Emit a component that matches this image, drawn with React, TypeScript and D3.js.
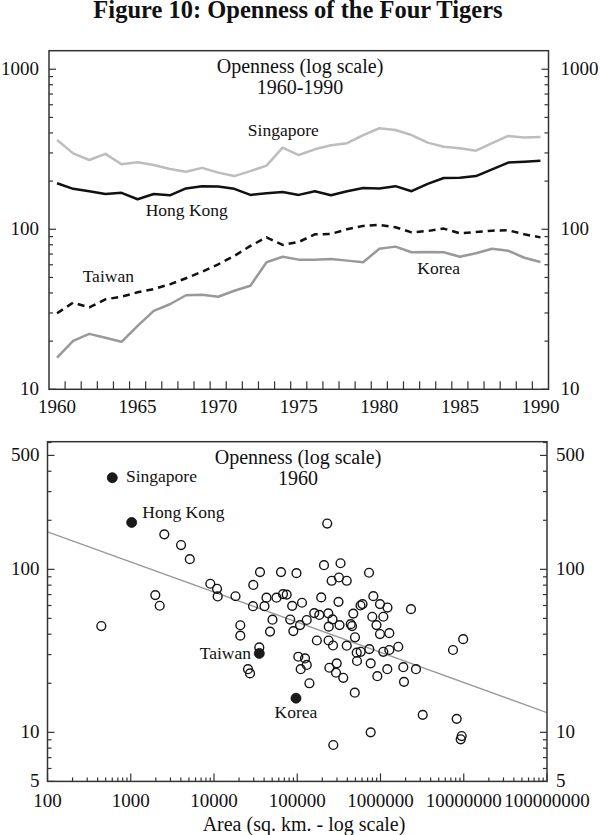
import React, { useEffect, useRef } from "react";
import * as d3 from "d3";

// ---------- Top panel data: openness 1960-1990 ----------
const years = [1960, 1961, 1962, 1963, 1964, 1965, 1966, 1967, 1968, 1969, 1970, 1971, 1972, 1973, 1974, 1975, 1976, 1977, 1978, 1979, 1980, 1981, 1982, 1983, 1984, 1985, 1986, 1987, 1988, 1989, 1990];
const singapore = [361, 298, 271, 296, 255, 262, 252, 238, 229, 242, 226, 215, 231, 250, 324, 291, 316, 335, 345, 388, 428, 417, 388, 348, 328, 321, 310, 345, 383, 374, 377];
const hongKong = [194, 179, 173, 166, 169, 154, 166, 163, 180, 186, 185, 179, 164, 168, 171, 164, 173, 163, 173, 181, 180, 186, 173, 192, 209, 210, 215, 237, 261, 264, 268];
const taiwan = [29.9, 34.8, 32.5, 36.5, 37.9, 40.4, 42.3, 45.3, 49.4, 54.3, 60.4, 68.1, 78.7, 89.1, 79.8, 83.3, 93.0, 93.5, 100, 105, 106.5, 103, 95.7, 97.5, 101, 94.4, 96.2, 98, 98.6, 93, 89];
const korea = [15.8, 20.1, 22.2, 21.0, 19.8, 24.9, 30.9, 34.0, 38.7, 39.0, 37.9, 41.3, 44.4, 62.2, 67.4, 64.6, 64.6, 65.2, 63.7, 62.2, 75.6, 77.9, 71.8, 72, 71.8, 67.4, 70.8, 75.6, 73.5, 66.4, 62.5];
const yearLabels = [1960, 1965, 1970, 1975, 1980, 1985, 1990];
const topYLabels = [10, 100, 1000];

// ---------- Bottom panel data: openness 1960 vs area ----------
const tigerNames = ["Singapore", "Hong Kong", "Taiwan", "Korea"];
const tigerArea = [600, 1026, 35000, 96600];
const tigerOpen = [365, 194, 30.5, 16.2];

const otherArea = [2530, 4020, 5120, 35700, 63800, 97900, 9030, 10870, 11070, 29650, 18130, 1972, 2228, 29400, 40400, 42700, 56300, 67400, 74700, 86900, 114000, 443, 20700, 20700, 50400, 47100, 82300, 89700, 108000, 229000, 209600, 331000, 259000, 317000, 393000, 194000, 313000, 160000, 184000, 236000, 265000, 130000, 239000, 322000, 172000, 238000, 269000, 393000, 494000, 518000, 522000, 35000, 103000, 124000, 130000, 110000, 25600, 27100, 298000, 243000, 292000, 357000, 140000, 491000, 271000, 728000, 820000, 986000, 1213000, 575000, 608000, 2324000, 471000, 797000, 1081000, 439000, 455000, 895000, 986000, 1276000, 9840000, 734000, 578000, 1081000, 1276000, 1636000, 7430000, 762000, 1207000, 1879000, 2669000, 916000, 1915000, 3214000, 8225000, 762000, 9450000, 9190000];
const otherOpen = [164, 141, 115.5, 96.2, 96.2, 94.8, 81.6, 76.0, 68.2, 80.2, 68.4, 69.5, 59.8, 59.4, 59.4, 67.0, 67.0, 70.5, 70.0, 59.7, 62.4, 44.9, 45.4, 39.2, 49.1, 41.5, 49.2, 41.8, 45.5, 191, 106, 109, 85.1, 89.1, 85.1, 67.3, 63.2, 53.9, 52.5, 53.7, 49.3, 48.9, 44.5, 45.5, 36.6, 36.6, 34.1, 34.0, 38.3, 30.8, 27.4, 33.2, 29.1, 28.4, 25.9, 24.4, 24.4, 23.0, 26.5, 24.9, 23.2, 21.6, 20.0, 17.5, 8.36, 95.3, 68.5, 61.2, 58.3, 60.0, 61.2, 57.0, 53.5, 51.2, 51.2, 46.1, 44.9, 45.5, 40.1, 40.6, 37.3, 32.4, 31.2, 31.2, 32.0, 33.5, 32.0, 26.5, 24.4, 25.1, 24.4, 22.1, 20.4, 12.8, 12.1, 10.0, 9.49, 9.06];

// fitted line endpoints (area, openness)
const trendArea = [100, 100000000];
const trendOpen = [170, 13.2];

const areaLabels = ["100", "1000", "10000", "100000", "1000000", "10000000", "100000000"];
const bottomYLabels = [5, 10, 100, 500];

const FONT = "'Liberation Serif', 'Times New Roman', Times, serif";
const INK = "#111";

export default function App() {
  const ref = useRef<SVGSVGElement>(null);

  useEffect(() => {
    document.body.style.margin = "0";
    const svg = d3.select(ref.current);
    svg.selectAll("*").remove();
    svg.attr("font-family", FONT);

    // Title
    svg.append("text")
      .attr("x", 298).attr("y", 18)
      .attr("text-anchor", "middle")
      .attr("font-size", 24.5).attr("font-weight", "bold")
      .attr("fill", INK)
      .text("Figure 10: Openness of the Four Tigers");

    const drawLogYTicks = (g: any, y: any, xl: number, xr: number, majors: number[]) => {
      const [d0, d1] = y.domain();
      const k0 = Math.floor(Math.log10(d0));
      const k1 = Math.ceil(Math.log10(d1));
      for (let k = k0; k <= k1; k++) {
        for (let m = 1; m <= 9; m++) {
          const v = m * Math.pow(10, k);
          if (v < d0 - 1e-9 || v > d1 + 1e-9) continue;
          const len = majors.includes(v) ? 7 : 4;
          const yy = y(v);
          g.append("line").attr("x1", xl).attr("x2", xl + len).attr("y1", yy).attr("y2", yy)
            .attr("stroke", "#333").attr("stroke-width", 1.2);
          g.append("line").attr("x1", xr - len).attr("x2", xr).attr("y1", yy).attr("y2", yy)
            .attr("stroke", "#333").attr("stroke-width", 1.2);
        }
      }
    };

    // ================= TOP PANEL =================
    const T = { l: 49, r: 548.5, t: 50.7, b: 389.3 };
    const xT = d3.scaleLinear().domain([1959.5, 1990.5]).range([T.l, T.r]);
    const yT = d3.scaleLog().domain([10, 1306]).range([T.b, T.t]);
    const gT = svg.append("g");

    drawLogYTicks(gT, yT, T.l, T.r, topYLabels);
    for (let yr = years[0]; yr < years[years.length - 1]; yr++) {
      const xx = xT(yr + 0.5);
      gT.append("line").attr("x1", xx).attr("x2", xx).attr("y1", T.b).attr("y2", T.b - 8)
        .attr("stroke", "#333").attr("stroke-width", 1.2);
    }
    const line = d3.line<number>().x((_, i) => xT(years[i])).y((d) => yT(d));
    const series = [
      { d: singapore, c: "#bdbdbd", dash: null },
      { d: korea, c: "#999999", dash: null },
      { d: hongKong, c: "#111111", dash: null },
      { d: taiwan, c: "#111111", dash: "7,5" },
    ];
    series.forEach((s) => {
      gT.append("path").attr("d", line(s.d) as string)
        .attr("fill", "none").attr("stroke", s.c).attr("stroke-width", 2.5)
        .attr("stroke-linejoin", "round")
        .attr("stroke-dasharray", s.dash as any);
    });
    gT.append("rect").attr("x", T.l).attr("y", T.t).attr("width", T.r - T.l).attr("height", T.b - T.t)
      .attr("fill", "none").attr("stroke", "#333").attr("stroke-width", 1.5);
    topYLabels.forEach((v) => {
      gT.append("text").attr("x", T.l - 10).attr("y", yT(v) + 6).attr("text-anchor", "end")
        .attr("font-size", 19).attr("fill", INK).text(String(v));
      gT.append("text").attr("x", T.r + 12).attr("y", yT(v) + 6).attr("text-anchor", "start")
        .attr("font-size", 19).attr("fill", INK).text(String(v));
    });
    yearLabels.forEach((v) => {
      gT.append("text").attr("x", xT(v)).attr("y", 413).attr("text-anchor", "middle")
        .attr("font-size", 19).attr("fill", INK).text(String(v));
    });
    gT.append("text").attr("x", 300).attr("y", 73).attr("text-anchor", "middle")
      .attr("font-size", 20).attr("fill", INK).text("Openness (log scale)");
    gT.append("text").attr("x", 300).attr("y", 94).attr("text-anchor", "middle")
      .attr("font-size", 20).attr("fill", INK).text("1960-1990");
    const topLabels = [
      { t: "Singapore", x: 283.3, y: 135.6 },
      { t: "Hong Kong", x: 186.8, y: 215.6 },
      { t: "Taiwan", x: 108.3, y: 281.8 },
      { t: "Korea", x: 438.7, y: 273.5 },
    ];
    topLabels.forEach((L) => {
      gT.append("text").attr("x", L.x).attr("y", L.y).attr("text-anchor", "middle")
        .attr("font-size", 17.5).attr("fill", INK).text(L.t);
    });

    // ================= BOTTOM PANEL =================
    const B = { l: 47.5, r: 547, t: 441.7, b: 781.4 };
    const xB = d3.scaleLog().domain([100, 1e8]).range([B.l, B.r]);
    const yB = d3.scaleLog().domain([5, 607]).range([B.b, B.t]);
    const gB = svg.append("g");

    svg.append("clipPath").attr("id", "clipB").append("rect")
      .attr("x", B.l).attr("y", B.t).attr("width", B.r - B.l).attr("height", B.b - B.t);

    drawLogYTicks(gB, yB, B.l, B.r, bottomYLabels);
    for (let k = 2; k <= 8; k++) {
      for (let m = 1; m <= 9; m++) {
        const v = m * Math.pow(10, k);
        if (v > 1e8 + 1) continue;
        const xx = xB(v);
        const len = m === 1 ? 8 : 4;
        gB.append("line").attr("x1", xx).attr("x2", xx).attr("y1", B.b).attr("y2", B.b - len)
          .attr("stroke", "#333").attr("stroke-width", 1.2);
      }
    }

    gB.append("line")
      .attr("x1", xB(trendArea[0])).attr("y1", yB(trendOpen[0]))
      .attr("x2", xB(trendArea[1])).attr("y2", yB(trendOpen[1]))
      .attr("stroke", "#999").attr("stroke-width", 1.4)
      .attr("clip-path", "url(#clipB)");

    otherArea.forEach((a, i) => {
      gB.append("circle").attr("cx", xB(a)).attr("cy", yB(otherOpen[i])).attr("r", 4.4)
        .attr("fill", "none").attr("stroke", "#151515").attr("stroke-width", 1.4);
    });
    tigerArea.forEach((a, i) => {
      gB.append("circle").attr("cx", xB(a)).attr("cy", yB(tigerOpen[i])).attr("r", 5)
        .attr("fill", "#1a1a1a").attr("stroke", "#111").attr("stroke-width", 0.8);
    });

    gB.append("rect").attr("x", B.l).attr("y", B.t).attr("width", B.r - B.l).attr("height", B.b - B.t)
      .attr("fill", "none").attr("stroke", "#333").attr("stroke-width", 1.5);

    bottomYLabels.forEach((v) => {
      gB.append("text").attr("x", B.l - 8).attr("y", yB(v) + 5.5).attr("text-anchor", "end")
        .attr("font-size", 19).attr("fill", INK).text(String(v));
      gB.append("text").attr("x", B.r + 9).attr("y", yB(v) + 5.5).attr("text-anchor", "start")
        .attr("font-size", 19).attr("fill", INK).text(String(v));
    });
    areaLabels.forEach((s) => {
      gB.append("text").attr("x", xB(+s)).attr("y", 807).attr("text-anchor", "middle")
        .attr("font-size", 19).attr("fill", INK).text(s);
    });
    gB.append("text").attr("x", 304).attr("y", 831).attr("text-anchor", "middle")
      .attr("font-size", 20).attr("fill", INK).text("Area (sq. km. - log scale)");

    gB.append("text").attr("x", 298).attr("y", 464).attr("text-anchor", "middle")
      .attr("font-size", 20).attr("fill", INK).text("Openness (log scale)");
    gB.append("text").attr("x", 298).attr("y", 485).attr("text-anchor", "middle")
      .attr("font-size", 20).attr("fill", INK).text("1960");

    const botLabels = [
      { t: tigerNames[0], x: 126, y: 482, a: "start" },
      { t: tigerNames[1], x: 142.3, y: 518, a: "start" },
      { t: tigerNames[2], x: 251, y: 659, a: "end" },
      { t: tigerNames[3], x: 296, y: 718, a: "middle" },
    ];
    botLabels.forEach((L) => {
      gB.append("text").attr("x", L.x).attr("y", L.y).attr("text-anchor", L.a)
        .attr("font-size", 17.5).attr("fill", INK).text(L.t);
    });
  }, []);

  return (
    <svg
      ref={ref}
      width={600}
      height={835}
      style={{ position: "absolute", left: 0, top: 0, background: "#fff" }}
    />
  );
}
